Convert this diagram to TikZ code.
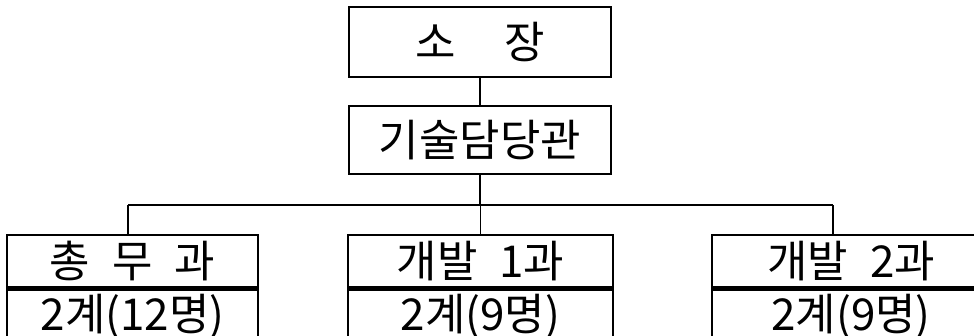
\documentclass[tikz,border=0pt]{standalone}
\usepackage{fontspec}
\newfontfamily\kr{Noto Sans CJK KR}
\usetikzlibrary{positioning}
\begin{document}
\begin{tikzpicture}[x=0.02cm,y=-0.02cm,
	box/.style={draw, line width=1.4pt, inner sep=0pt, font=\kr\fontsize{25}{28}\selectfont},
	link/.style={line width=0.8pt}]
	\def\bary{205}

	\useasboundingbox (0,0) rectangle (974,335);
	\clip (0,0) rectangle (974,335);

	\node[box, minimum width=5.24cm, minimum height=1.4cm] (chief) at (480,42) {소\hspace{1.1em}장};
	\node[box, minimum width=5.24cm, minimum height=1.36cm] (tech) at (480,140) {기술담당관};

	\node[box, minimum width=5.02cm, minimum height=1.04cm] (gen) at (132.5,261) {총\hspace{0.5em}무\hspace{0.5em}과};
	\node[box, minimum width=5.02cm, minimum height=1.1cm, below=0pt of gen] (gencnt) {2계(12명)};

	\node[box, minimum width=5.3cm, minimum height=1.04cm] (devone) at (480.5,261) {개발\hspace{0.5em}1과};
	\node[box, minimum width=5.3cm, minimum height=1.1cm, below=0pt of devone] (devonecnt) {2계(9명)};

	\node[box, minimum width=5.56cm, minimum height=1.04cm] (devtwo) at (851,261) {개발\hspace{0.5em}2과};
	\node[box, minimum width=5.56cm, minimum height=1.1cm, below=0pt of devtwo] (devtwocnt) {2계(9명)};

	\coordinate (jgen) at (128,\bary);
	\coordinate (jdev) at (833,\bary);

	\draw[link] (chief) -- (tech);
	\draw[link] (tech.south) -- (tech.south |- jgen);
	\draw[link] (jgen) -- (jdev);
	\draw[link] (jgen) -- (jgen |- gen.north);
	\draw[link] (devone.north |- jgen) -- (devone.north);
	\draw[link] (jdev) -- (jdev |- devtwo.north);
\end{tikzpicture}
\end{document}
